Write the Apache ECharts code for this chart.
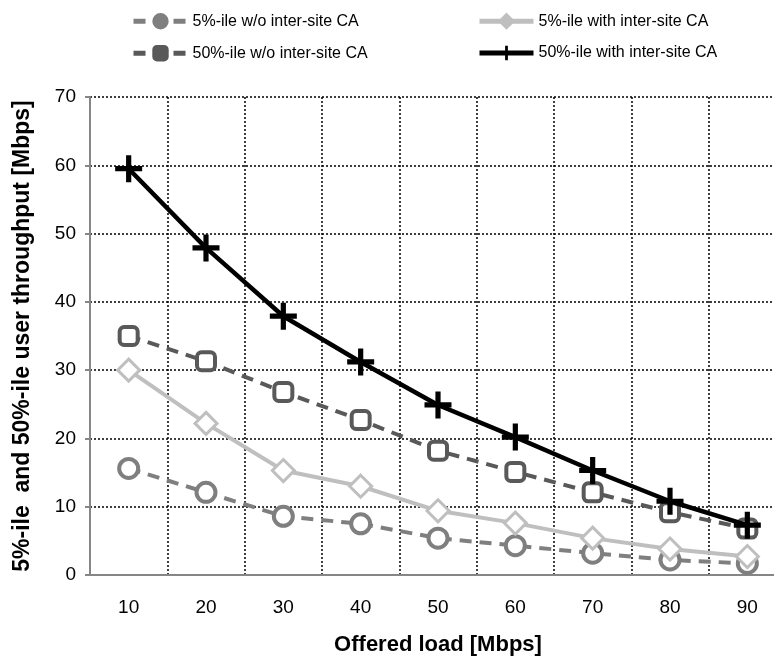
<!DOCTYPE html>
<html>
<head>
<meta charset="utf-8">
<script src="https://cdn.jsdelivr.net/npm/echarts@6/dist/echarts.min.js"></script>
<style>
  html, body { margin: 0; padding: 0; background: #fff; overflow: hidden; }
  #chart { width: 786px; height: 661px; }
</style>
</head>
<body>
<div id="chart"></div>
<script>
// offered load categories (Mbps)
const loads = ["10", "20", "30", "40", "50", "60", "70", "80", "90"];

// series values
const p5NoCA = [15.6, 12.1, 8.6, 7.5, 5.4, 4.3, 3.2, 2.2, 1.7];
const p5CA = [30.0, 22.2, 15.3, 13.0, 9.4, 7.6, 5.4, 3.8, 2.7];
const p50NoCA = [35.0, 31.3, 26.8, 22.7, 18.2, 15.1, 12.1, 9.2, 6.8];
const p50CA = [59.5, 47.9, 37.9, 31.2, 24.9, 20.2, 15.3, 10.8, 7.3];

const names = [
  "5%-ile w/o inter-site CA",
  "5%-ile with inter-site CA",
  "50%-ile w/o inter-site CA",
  "50%-ile with inter-site CA"
];

const font = "'Liberation Sans', sans-serif";
const plus = "path://M10.5,0h5v10.5h10.5v5h-10.5v10.5h-5v-10.5h-10.5v-5h10.5z";

const chart = echarts.init(document.getElementById("chart"));

// one legend per entry so they sit in a 2x2 block like the original
function legendAt(name, left, top, color) {
  return {
    data: [name],
    left: left,
    top: top,
    itemWidth: 54,
    itemHeight: 18,
    itemGap: 0,
    textStyle: { fontFamily: font, fontSize: 16, color: "#000" },
    itemStyle: { color: color, borderColor: color },
    lineStyle: { width: 5 },
    selectedMode: false
  };
}

chart.setOption({
  animation: false,
  legend: [
    legendAt(names[0], 126, 8, "#7f7f7f"),
    legendAt(names[1], 472, 8, "#bfbfbf"),
    legendAt(names[2], 126, 40, "#595959"),
    legendAt(names[3], 472, 40, "#000")
  ],
  grid: { left: 90, top: 97, bottom: 85, right: 0 },
  xAxis: {
    type: "category",
    data: loads,
    name: "Offered load [Mbps]",
    nameLocation: "middle",
    nameGap: 59,
    nameTextStyle: { fontFamily: font, fontSize: 22, fontWeight: "bold", color: "#000" },
    axisLine: { lineStyle: { color: "#868686", width: 2 } },
    axisTick: { length: 5, lineStyle: { color: "#868686", width: 2 } },
    axisLabel: { fontFamily: font, fontSize: 19, color: "#000", margin: 23 },
    splitLine: { show: true, lineStyle: { color: "#000", type: [2, 2], width: 1.5 } }
  },
  yAxis: {
    type: "value",
    min: 0,
    max: 70,
    interval: 10,
    name: "5%-ile  and 50%-ile user throughput [Mbps]",
    nameLocation: "middle",
    nameGap: 56,
    nameTextStyle: { fontFamily: font, fontSize: 23, fontWeight: "bold", color: "#000" },
    axisLine: { show: true, lineStyle: { color: "#868686", width: 2 } },
    axisTick: { show: true, length: 5, lineStyle: { color: "#868686", width: 2 } },
    axisLabel: { fontFamily: font, fontSize: 19, color: "#000", margin: 14 },
    splitLine: { show: true, lineStyle: { color: "#000", type: [2, 2], width: 1.5 } }
  },
  series: [
    {
      name: names[0],
      type: "line",
      data: p5NoCA,
      symbol: "circle",
      symbolSize: 19,
      lineStyle: { color: "#7f7f7f", width: 4, type: [12, 8] },
      itemStyle: { color: "#fff", borderColor: "#7f7f7f", borderWidth: 4 },
      z: 2
    },
    {
      name: names[1],
      type: "line",
      data: p5CA,
      symbol: "diamond",
      symbolSize: 22,
      lineStyle: { color: "#bfbfbf", width: 4 },
      itemStyle: { color: "#fff", borderColor: "#bfbfbf", borderWidth: 3 },
      z: 3
    },
    {
      name: names[2],
      type: "line",
      data: p50NoCA,
      symbol: "roundRect",
      symbolSize: 18,
      lineStyle: { color: "#595959", width: 4, type: [12, 8] },
      itemStyle: { color: "#fff", borderColor: "#595959", borderWidth: 4 },
      z: 4
    },
    {
      name: names[3],
      type: "line",
      data: p50CA,
      symbol: plus,
      symbolSize: 27,
      lineStyle: { color: "#000", width: 4.5 },
      itemStyle: { color: "#000" },
      z: 5
    }
  ]
});
</script>
</body>
</html>
